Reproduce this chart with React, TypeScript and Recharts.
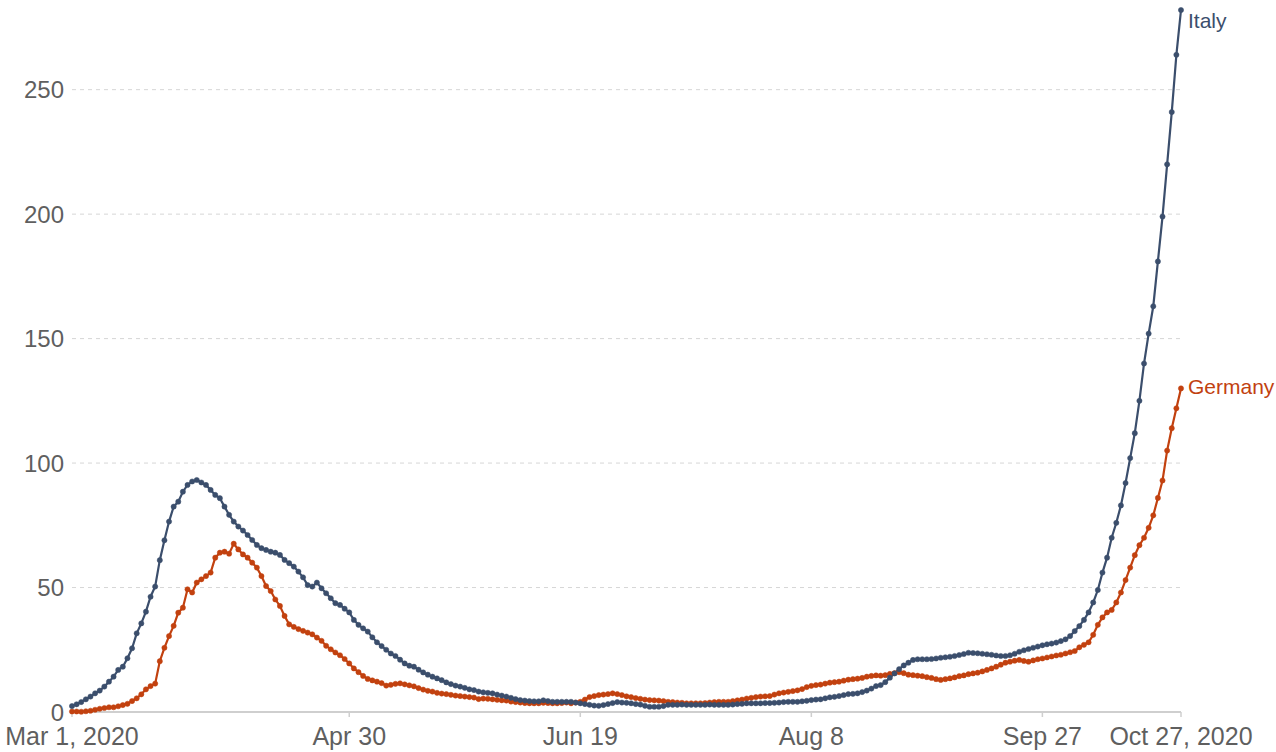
import React from 'react';
import {
  LineChart,
  Line,
  XAxis,
  YAxis,
  CartesianGrid,
} from 'recharts';

// daily values, Mar 1 2020 (day 0) to Oct 27 2020 (day 240)
const italy = [
  2.4, 3.1, 4, 5.1, 6.2, 7.5, 8.6, 10.2, 12.2, 14.2,
  16.9, 18.2, 21.6, 25.6, 31.6, 35.6, 40.3, 46.3, 50.4, 61,
  69, 76.5, 82.5, 84.5, 88.5, 91.2, 92.6, 93.2, 92.2, 91.2,
  89.2, 87.2, 85.9, 82.5, 79.2, 76.5, 74.5, 72.9, 71.1, 69.1,
  67.1, 65.8, 65.1, 64.4, 64, 63.1, 61.1, 59.8, 58.4, 56.4,
  54.1, 51, 50.4, 52, 49.7, 47.7, 45.7, 43.7, 43, 41.5,
  40, 37, 35, 33.6, 32.3, 30, 28, 26.5, 25, 23.5,
  22.5, 21, 19.5, 18.6, 18.2, 17, 15.9, 15, 14.2, 13.5,
  12.8, 11.9, 11.2, 10.6, 10.2, 9.7, 9.1, 8.8, 8.2, 7.9,
  7.7, 7.5, 7, 6.6, 6.2, 5.7, 5.2, 4.8, 4.6, 4.4,
  4.3, 4.3, 4.7, 4.4, 4.1, 4.1, 4.1, 4.1, 4.1, 3.8,
  3.5, 3.2, 2.9, 2.6, 2.5, 2.8, 3.2, 3.6, 4, 3.8,
  3.7, 3.5, 3.2, 3, 2.5, 2.1, 2.1, 2.1, 2.4, 2.9,
  2.9, 2.9, 3, 2.9, 2.9, 2.9, 2.9, 2.9, 3, 2.9,
  2.9, 2.9, 2.9, 3, 3.2, 3.3, 3.5, 3.5, 3.5, 3.5,
  3.6, 3.6, 3.7, 3.8, 4, 4.1, 4.1, 4.1, 4.3, 4.5,
  4.8, 5, 5.1, 5.5, 5.9, 6.1, 6.4, 6.8, 7.2, 7.3,
  7.5, 8, 8.6, 9.4, 10.4, 10.8, 12, 13.8, 15.5, 17.2,
  18.7, 19.8, 20.9, 21.2, 21.2, 21.2, 21.3, 21.5, 21.8, 22,
  22.2, 22.5, 22.9, 23.3, 23.8, 23.7, 23.6, 23.4, 23.2, 23,
  22.7, 22.5, 22.5, 22.8, 23.4, 24.2, 24.8, 25.3, 25.8, 26.3,
  26.8, 27.2, 27.5, 27.9, 28.5, 29.2, 30.5, 32.5, 34.5, 37,
  40, 44, 49, 56, 62, 70, 76, 83, 92, 102,
  112, 125, 140, 152, 163, 181, 199, 220, 241, 264,
  282,
];

const germany = [
  0.2, 0.2, 0.1, 0.3, 0.5, 0.9, 1.3, 1.6, 1.9, 1.9,
  2.3, 2.8, 3.3, 4.4, 5.5, 7.1, 9.1, 10.4, 11.4, 20.4,
  25.8, 30.5, 34.6, 39.9, 41.9, 49.3, 48, 52, 53.3, 54.6,
  56, 62, 64, 64.4, 63.6, 67.6, 65.3, 63.3, 62, 60,
  58, 54.6, 50.6, 48.6, 45.2, 42.6, 38.6, 35.2, 34.2, 33.3,
  32.6, 31.9, 31.2, 29.9, 28.6, 26.6, 25.2, 23.9, 22.8, 21.3,
  19.5, 17.5, 16, 14.5, 13.3, 12.7, 12.2, 11.6, 10.6, 10.9,
  11.3, 11.5, 11.1, 10.7, 10.3, 9.6, 9, 8.5, 8.2, 7.7,
  7.4, 7.2, 6.9, 6.6, 6.4, 6.2, 6, 5.8, 5.2, 5.4,
  5.3, 5.1, 4.9, 4.7, 4.6, 4.2, 4, 3.8, 3.6, 3.5,
  3.5, 3.5, 3.7, 3.6, 3.5, 3.5, 3.6, 3.8, 3.5, 3.8,
  4.1, 5, 6, 6.4, 6.8, 7, 7.2, 7.5, 7.2, 6.8,
  6.3, 6, 5.6, 5.3, 5, 4.8, 4.7, 4.6, 4.4, 4.1,
  4, 3.8, 3.7, 3.5, 3.5, 3.5, 3.5, 3.6, 3.8, 4,
  4.1, 4.1, 4.1, 4.4, 4.7, 5, 5.4, 5.7, 6, 6.2,
  6.3, 6.4, 7, 7.5, 7.8, 8.1, 8.4, 8.7, 9.2, 10,
  10.5, 10.8, 11, 11.4, 11.8, 12, 12.2, 12.6, 13, 13.2,
  13.4, 13.7, 14.2, 14.5, 14.7, 14.6, 14.8, 15.3, 15.6, 16,
  15.6, 15, 14.8, 14.6, 14.4, 14, 13.7, 13.2, 12.9, 13.2,
  13.5, 13.9, 14.4, 14.7, 15.2, 15.5, 15.8, 16.3, 16.9, 17.5,
  18.2, 19, 19.8, 20.2, 20.6, 20.9, 20.5, 20.2, 20.7, 21.2,
  21.5, 21.9, 22.3, 22.7, 23, 23.5, 24, 24.5, 26, 27,
  28, 31, 35, 38, 40, 41, 44, 48, 53, 58,
  63, 67, 70, 74, 79, 86, 93, 105, 114, 122,
  130,
];

// day index of each x tick (Mar 1 = 0)
const tickDays = [0, 60, 110, 160, 210, 240];
const tickLabels = ['Mar 1, 2020', 'Apr 30', 'Jun 19', 'Aug 8', 'Sep 27', 'Oct 27, 2020'];
const yTicks = [0, 50, 100, 150, 200, 250];

const ITALY = '#3b4e6c';
const GERMANY = '#c2410f';
const FONT = '"Liberation Sans", Arial, sans-serif';

const data = italy.map((v, i) => ({ day: i, italy: v, germany: germany[i] }));
const lastIndex = data.length - 1;
const yMax = Math.max(...italy, ...germany);

function endLabel(name: string, color: string, dy: number) {
  return (props: any) => {
    if (props.index !== lastIndex) return <g />;
    return (
      <text
        x={props.x + 7}
        y={props.y + dy}
        fill={color}
        fontSize={21}
        fontFamily={FONT}
        dominantBaseline="middle"
      >
        {name}
      </text>
    );
  };
}

// dashed grid only at the y ticks above zero
const gridRows = ({ offset }: any) =>
  yTicks.slice(1).map((t) => offset.top + offset.height * (1 - t / yMax));

export default function App() {
  return (
    <div style={{ position: 'absolute', left: 0, top: 0, background: '#fff' }}>
      <LineChart
        width={1276}
        height={752}
        data={data}
        margin={{ top: 10, right: 95, bottom: 10, left: 0 }}
      >
        <CartesianGrid
          vertical={false}
          stroke="#d6d6d6"
          strokeDasharray="4 4"
          horizontalCoordinatesGenerator={gridRows}
        />
        <XAxis
          dataKey="day"
          type="number"
          domain={['dataMin', 'dataMax']}
          ticks={tickDays}
          tickFormatter={(d: number) => tickLabels[tickDays.indexOf(d)]}
          height={30}
          axisLine={{ stroke: '#cfcfcf', strokeWidth: 2 }}
          tickLine={{ stroke: '#cfcfcf', strokeWidth: 1.5 }}
          tickSize={5}
          tickMargin={10}
          tick={{ fill: '#5f5f5f', fontSize: 25, fontFamily: FONT }}
          interval={0}
        />
        <YAxis
          domain={[0, 'dataMax']}
          ticks={yTicks}
          width={72}
          axisLine={false}
          tickLine={false}
          tick={{ fill: '#5f5f5f', fontSize: 24, fontFamily: FONT }}
        />
        <Line
          dataKey="germany"
          stroke={GERMANY}
          strokeWidth={2.2}
          dot={{ r: 2.6, fill: GERMANY, stroke: GERMANY, strokeWidth: 0.5 }}
          activeDot={false}
          isAnimationActive={false}
          label={endLabel('Germany', GERMANY, 0)}
        />
        <Line
          dataKey="italy"
          stroke={ITALY}
          strokeWidth={2.2}
          dot={{ r: 2.6, fill: ITALY, stroke: ITALY, strokeWidth: 0.5 }}
          activeDot={false}
          isAnimationActive={false}
          label={endLabel('Italy', ITALY, 12)}
        />
      </LineChart>
    </div>
  );
}
